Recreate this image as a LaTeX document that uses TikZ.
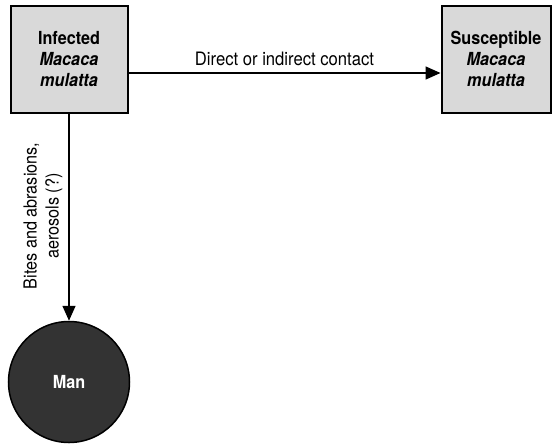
\documentclass[tikz,border=0pt]{standalone}
\usepackage{fontspec}
\setmainfont{TeX Gyre Heros}[FakeStretch=0.9]
\usetikzlibrary{arrows.meta}
\begin{document}
\begin{tikzpicture}[x=1pt,y=-1pt,
  hostbox/.style={draw=black, line width=2pt, fill=gray!30, minimum width=117pt,
    minimum height=107pt, align=center, font=\fontsize{18}{21}\selectfont\bfseries, inner sep=0pt},
  humannode/.style={circle, draw=black, line width=1.5pt, fill=black!80, minimum size=121pt,
    text=white, font=\fontsize{18}{20}\selectfont\bfseries, inner sep=0pt},
  route/.style={line width=1.6pt, -{Triangle[length=15pt,width=13pt]}},
  routelabel/.style={font=\fontsize{18.5}{22}\selectfont, align=center},
  sidelabel/.style={font=\fontsize{18}{22}\selectfont, align=center}]
\useasboundingbox (0,0) rectangle (552,445);
\node[hostbox] (infected) at (69,59) {Infected\\\textit{Macaca}\\\textit{mulatta}};
\node[hostbox, minimum width=109pt] (susceptible) at (496,59) {Susceptible\\\textit{Macaca}\\\textit{mulatta}};
\node[humannode] (man) at (69,382) {Man};
\draw[route] (infected.east |- 0,73) -- (susceptible.west |- 0,73)
  node[midway, above=3pt, routelabel] {Direct or indirect contact};
\draw[route] (infected.south) -- (man.north);
\node[sidelabel, rotate=90, anchor=center] (routetext) at (43,216) {Bites and abrasions,\\aerosols (?)};
\end{tikzpicture}
\end{document}
